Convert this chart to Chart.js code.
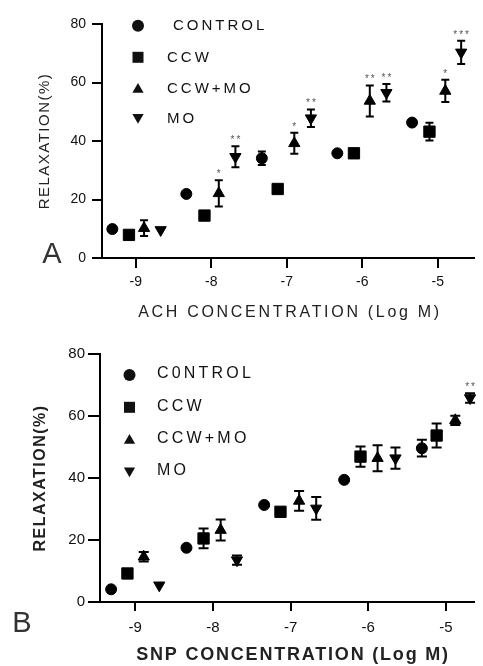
<!DOCTYPE html>
<html>
<head>
<meta charset="utf-8">
<script src="https://cdn.jsdelivr.net/npm/chart.js@4/dist/chart.umd.min.js"></script>
<style>
  html, body { margin: 0; padding: 0; background: #fff; }
  #wrap { position: relative; width: 483px; height: 666px; overflow: hidden; }
  canvas { position: absolute; left: 0; }
  #chartA { top: 0; }
  #chartB { top: 330px; }
</style>
</head>
<body>
<div id="wrap">
  <canvas id="chartA" width="483" height="330"></canvas>
  <canvas id="chartB" width="483" height="336"></canvas>
</div>
<script>
'use strict';
const FONT = "'Liberation Sans', Arial, sans-serif";

const achSeriesNames = ['CONTROL', 'CCW', 'CCW+MO', 'MO'];
const snpSeriesNames = ['C0NTROL', 'CCW', 'CCW+MO', 'MO'];
const xTickValues = [-9, -8, -7, -6, -5];
const yTickValues = [0, 20, 40, 60, 80];

// panel A - ACh
const achControlX = [-9.31, -8.33, -7.33, -6.33, -5.34];
const achControlY = [9.9, 21.9, 34.1, 35.8, 46.3];
const achControlErr = [0, 0, 2.3, 0, 0];
const achCcwX = [-9.09, -8.09, -7.12, -6.11, -5.11];
const achCcwY = [7.9, 14.5, 23.6, 35.8, 43.2];
const achCcwErr = [0, 0, 0, 0, 3];
const achCcwMoX = [-8.89, -7.9, -6.9, -5.9, -4.9];
const achCcwMoY = [10.2, 22.1, 39.2, 53.7, 57.1];
const achCcwMoErr = [2.7, 4.5, 3.6, 5.3, 3.8];
const achCcwMoSig = ['', '*', '*', '**', '*'];
const achMoX = [-8.67, -7.68, -6.68, -5.68, -4.69];
const achMoY = [9.6, 34.6, 47.8, 56.5, 70.3];
const achMoErr = [0, 3.6, 3, 3, 4];
const achMoSig = ['', '**', '**', '**', '***'];

// panel B - SNP
const snpControlX = [-9.31, -8.34, -7.34, -6.31, -5.31];
const snpControlY = [4.1, 17.5, 31.3, 39.4, 49.6];
const snpControlErr = [0, 0, 0, 0, 2.7];
const snpCcwX = [-9.1, -8.12, -7.13, -6.1, -5.12];
const snpCcwY = [9.2, 20.5, 29.1, 46.9, 53.7];
const snpCcwErr = [0, 3.2, 0, 3.3, 3.9];
const snpCcwMoX = [-8.89, -7.9, -6.89, -5.88, -4.88];
const snpCcwMoY = [14.6, 23.2, 32.6, 46.4, 58.6];
const snpCcwMoErr = [1.5, 3.4, 3.2, 4.2, 1.5];
const snpMoX = [-8.69, -7.69, -6.67, -5.65, -4.69];
const snpMoY = [5.4, 13.5, 30.2, 46.4, 65.8];
const snpMoErr = [0, 1.5, 3.7, 3.4, 1.5];
const snpMoSig = ['', '', '', '', '**'];

const markers = [
  {style: 'circle', radius: 5.5, rotation: 0},
  {style: 'rect', radius: 8, rotation: 0},
  {style: 'triangle', radius: 6.5, rotation: 0},
  {style: 'triangle', radius: 6.5, rotation: 180},
];

const makeDatasets = (names, xs, ys, errs, sigs) =>
  names.map((name, i) => ({
    label: name,
    data: xs[i].map((x, j) => ({x, y: ys[i][j]})),
    errors: errs[i],
    sig: sigs[i],
    pointStyle: markers[i].style,
    pointRadius: markers[i].radius,
    pointRotation: markers[i].rotation,
    backgroundColor: '#000',
    borderColor: '#000',
    borderWidth: 1,
    showLine: false,
    clip: false,
  }));

// draw a legend marker like chart.js does
const drawMarker = (ctx, i, x, y, r) => {
  ctx.beginPath();
  if (i === 0) {
    ctx.arc(x, y, r, 0, Math.PI * 2);
  } else if (i === 1) {
    ctx.rect(x - r, y - r, r * 2, r * 2);
  } else {
    const d = i === 2 ? 1 : -1;
    ctx.moveTo(x, y - d * r);
    ctx.lineTo(x + r * 0.866, y + d * r / 2);
    ctx.lineTo(x - r * 0.866, y + d * r / 2);
    ctx.closePath();
  }
  ctx.fill();
};

const errorBars = {
  id: 'errorBars',
  beforeDatasetsDraw(chart, args, opts) {
    const {ctx} = chart;
    const {x, y} = chart.scales;
    ctx.save();
    ctx.strokeStyle = '#000';
    ctx.lineWidth = 2;
    chart.data.datasets.forEach((ds) => {
      ds.data.forEach((p, j) => {
        const e = ds.errors[j];
        if (!e) return;
        const px = x.getPixelForValue(p.x);
        const top = y.getPixelForValue(p.y + e);
        const bot = y.getPixelForValue(p.y - e);
        ctx.beginPath();
        ctx.moveTo(px, top);
        ctx.lineTo(px, bot);
        ctx.moveTo(px - opts.cap, top);
        ctx.lineTo(px + opts.cap, top);
        ctx.moveTo(px - opts.cap, bot);
        ctx.lineTo(px + opts.cap, bot);
        ctx.stroke();
      });
    });
    ctx.restore();
  },
  afterDatasetsDraw(chart) {
    const {ctx} = chart;
    const {x, y} = chart.scales;
    ctx.save();
    ctx.fillStyle = '#555';
    ctx.font = `10px ${FONT}`;
    ctx.letterSpacing = '2px';
    ctx.textAlign = 'center';
    ctx.textBaseline = 'alphabetic';
    chart.data.datasets.forEach((ds) => {
      if (!ds.sig) return;
      ds.data.forEach((p, j) => {
        if (!ds.sig[j]) return;
        const top = y.getPixelForValue(p.y + (ds.errors[j] || 0));
        ctx.fillText(ds.sig[j], x.getPixelForValue(p.x) + 1, top - 3);
      });
    });
    ctx.restore();
  },
};

const decor = {
  id: 'decor',
  afterDraw(chart, args, o) {
    const {ctx, chartArea} = chart;
    ctx.save();
    ctx.fillStyle = '#111';
    // legend
    ctx.textAlign = 'left';
    ctx.textBaseline = 'middle';
    ctx.font = o.legend.font;
    ctx.letterSpacing = o.legend.spacing + 'px';
    chart.data.datasets.forEach((ds, i) => {
      drawMarker(ctx, i, o.legend.markerX, o.legend.rows[i], o.legend.sizes[i]);
      ctx.fillText(ds.label, o.legend.textX[i], o.legend.textY[i]);
    });
    // y title
    ctx.fillStyle = '#222';
    ctx.font = o.yTitle.font;
    ctx.letterSpacing = o.yTitle.spacing + 'px';
    ctx.textAlign = 'center';
    ctx.save();
    ctx.translate(o.yTitle.x, (chartArea.top + chartArea.bottom) / 2);
    ctx.rotate(-Math.PI / 2);
    ctx.fillText(o.yTitle.text, 0, 0);
    ctx.restore();
    // x title
    ctx.font = o.xTitle.font;
    ctx.letterSpacing = o.xTitle.spacing + 'px';
    ctx.fillText(o.xTitle.text, o.xTitle.x, o.xTitle.y);
    // panel letter
    ctx.letterSpacing = '0px';
    ctx.fillStyle = '#333';
    ctx.font = o.letter.font;
    ctx.textBaseline = 'alphabetic';
    ctx.fillText(o.letter.text, o.letter.x, o.letter.y);
    ctx.restore();
  },
};

const makeScales = (c) => ({
  x: {
    type: 'linear',
    min: c.xMin,
    max: c.xMax,
    afterBuildTicks: (s) => { s.ticks = xTickValues.map((v) => ({value: v})); },
    afterFit: (s) => { s.height = c.xAxisHeight; s.paddingLeft = 0; s.paddingRight = 0; },
    grid: {drawOnChartArea: false, drawTicks: true, tickLength: c.xTickLen, color: '#000', lineWidth: 2},
    border: {color: '#000', width: 2},
    ticks: {font: {family: FONT, size: c.tickSize}, color: '#111', padding: c.xTickPad,
      maxRotation: 0, autoSkip: false, callback: (v) => String(v)},
  },
  y: {
    type: 'linear',
    min: 0,
    max: 80,
    afterBuildTicks: (s) => { s.ticks = yTickValues.map((v) => ({value: v})); },
    afterFit: (s) => { s.width = c.left; s.paddingTop = 0; s.paddingBottom = 0; },
    grid: {drawOnChartArea: false, drawTicks: true, tickLength: c.yTickLen, color: '#000', lineWidth: 2},
    border: {color: '#000', width: 2},
    ticks: {font: {family: FONT, size: c.tickSize}, color: '#111', padding: c.yTickPad,
      callback: (v) => String(v)},
  },
});

const chartA = new Chart(document.getElementById('chartA'), {
  type: 'scatter',
  data: {
    datasets: makeDatasets(achSeriesNames,
      [achControlX, achCcwX, achCcwMoX, achMoX],
      [achControlY, achCcwY, achCcwMoY, achMoY],
      [achControlErr, achCcwErr, achCcwMoErr, achMoErr],
      [null, null, achCcwMoSig, achMoSig]),
  },
  options: {
    responsive: false,
    animation: false,
    layout: {padding: {top: 24, right: 6, left: 0, bottom: 0}},
    scales: makeScales({xMin: -9.447, xMax: -4.52, left: 102, xAxisHeight: 72,
      tickSize: 14, xTickLen: 10, xTickPad: 6, yTickLen: 10, yTickPad: 6}),
    plugins: {
      legend: {display: false},
      tooltip: {enabled: false},
      errorBars: {cap: 4},
      decor: {
        legend: {markerX: 138, rows: [25.7, 57.3, 89.5, 117.3], sizes: [6, 5.5, 6.5, 6.5],
          textX: [173, 167, 167, 167], textY: [26, 57.5, 88.5, 118.5],
          font: `15px ${FONT}`, spacing: 3},
        yTitle: {text: 'RELAXATION(%)', x: 45, font: `15px ${FONT}`, spacing: 1.5},
        xTitle: {text: 'ACH CONCENTRATION (Log M)', x: 290, y: 313, font: `16px ${FONT}`, spacing: 2.7},
        letter: {text: 'A', x: 52, y: 263, font: `29px ${FONT}`},
      },
    },
  },
  plugins: [errorBars, decor],
});

const chartB = new Chart(document.getElementById('chartB'), {
  type: 'scatter',
  data: {
    datasets: makeDatasets(snpSeriesNames,
      [snpControlX, snpCcwX, snpCcwMoX, snpMoX],
      [snpControlY, snpCcwY, snpCcwMoY, snpMoY],
      [snpControlErr, snpCcwErr, snpCcwMoErr, snpMoErr],
      [null, null, null, snpMoSig]),
  },
  options: {
    responsive: false,
    animation: false,
    layout: {padding: {top: 24, right: 0, left: 0, bottom: 0}},
    scales: makeScales({xMin: -9.453, xMax: -4.639, left: 100, xAxisHeight: 64,
      tickSize: 15, xTickLen: 9, xTickPad: 8, yTickLen: 12, yTickPad: 3}),
    plugins: {
      legend: {display: false},
      tooltip: {enabled: false},
      errorBars: {cap: 5},
      decor: {
        legend: {markerX: 129.5, rows: [45, 77.3, 110.5, 140.7], sizes: [6, 5.5, 6.5, 6.5],
          textX: [157, 157, 157, 157], textY: [44, 77, 109, 141],
          font: `16px ${FONT}`, spacing: 3.2},
        yTitle: {text: 'RELAXATION(%)', x: 41, font: `bold 16px ${FONT}`, spacing: 1.5},
        xTitle: {text: 'SNP CONCENTRATION (Log M)', x: 293, y: 325.5, font: `bold 18px ${FONT}`, spacing: 1.8},
        letter: {text: 'B', x: 22, y: 302, font: `29px ${FONT}`},
      },
    },
  },
  plugins: [errorBars, decor],
});
</script>
</body>
</html>
